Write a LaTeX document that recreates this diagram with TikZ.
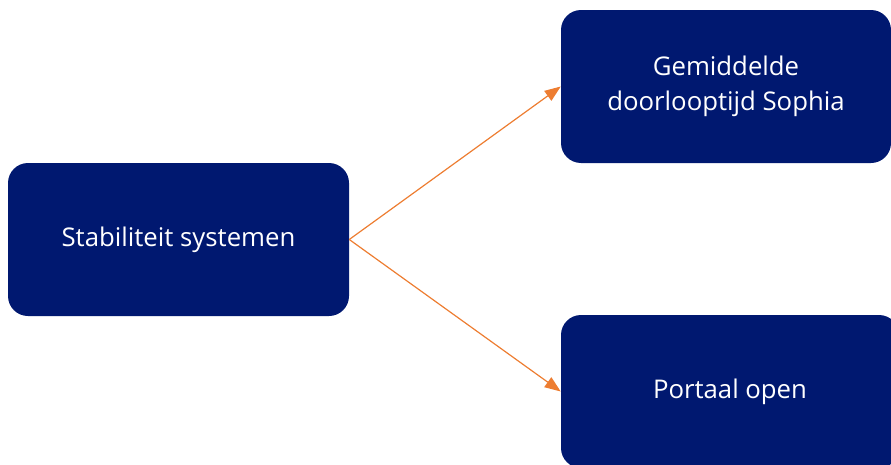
\documentclass[tikz,border=0pt]{standalone}
\usepackage{fontspec}
\setmainfont{Open Sans}
\usepackage{tikz}
\usetikzlibrary{arrows.meta,positioning}
\usepackage{xcolor}
\definecolor{kpinavy}{RGB}{0,24,112}
\definecolor{kpiorange}{RGB}{237,125,49}
\tikzstyle{kpibox} = [draw=none,fill=kpinavy,text=white,rounded corners=15pt,
  align=center,inner sep=0pt,font=\fontsize{19.3}{26}\selectfont]
\tikzstyle{arrow} = [line width=0.9pt,-{Triangle[length=12pt,width=9pt]},color=kpiorange]

\begin{document}
\begin{tikzpicture}[x=0.75pt,y=-0.75pt]
\useasboundingbox (0,0) rectangle (891,464);
\clip (0,0) rectangle (891,464);
% Boxes
\node[kpibox,minimum width=255.75pt,minimum height=114.75pt] (stab) at (178.5,239.5) {Stabiliteit systemen};
\node[kpibox,minimum width=247.5pt,minimum height=114.75pt] (doorloop) at (726,86.5) {Gemiddelde\\doorlooptijd Sophia};
\node[kpibox,minimum width=253.5pt,minimum height=114.75pt] (portaal) at (730,391.5) {Portaal open};

% Arrows
\draw[arrow] (stab.east) -- (doorloop.west);
\draw[arrow] (stab.east) -- (portaal.west);
\end{tikzpicture}
\end{document}
